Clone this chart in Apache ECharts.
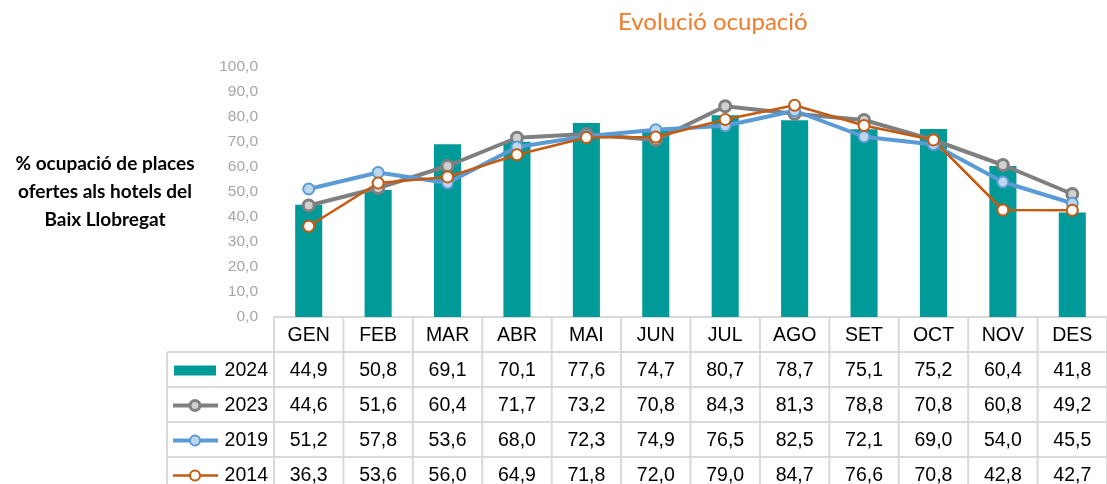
<!DOCTYPE html>
<html>
<head>
<meta charset="utf-8">
<script src="https://cdn.jsdelivr.net/npm/echarts@6/dist/echarts.min.js"></script>
<style>
  html, body { margin: 0; padding: 0; background: #fff; }
  #chart { width: 1107px; height: 484px; }
</style>
</head>
<body>
<div id="chart"></div>
<script>
// mesos i valors (% ocupació)
const months = ["GEN", "FEB", "MAR", "ABR", "MAI", "JUN", "JUL", "AGO", "SET", "OCT", "NOV", "DES"];
const occ2024 = [44.9, 50.8, 69.1, 70.1, 77.6, 74.7, 80.7, 78.7, 75.1, 75.2, 60.4, 41.8];
const occ2023 = [44.6, 51.6, 60.4, 71.7, 73.2, 70.8, 84.3, 81.3, 78.8, 70.8, 60.8, 49.2];
const occ2019 = [51.2, 57.8, 53.6, 68.0, 72.3, 74.9, 76.5, 82.5, 72.1, 69.0, 54.0, 45.5];
const occ2014 = [36.3, 53.6, 56.0, 64.9, 71.8, 72.0, 79.0, 84.7, 76.6, 70.8, 42.8, 42.7];

const fmt = (v) => v.toFixed(1).replace(".", ",");

// colors per year
const sty = {
  "2024": { color: "#009A98" },
  "2023": { line: "#7F7F7F", fill: "#D0D0D0", width: 4, border: 3 },
  "2019": { line: "#5B9BD5", fill: "#BDD7EE", width: 4, border: 2 },
  "2014": { line: "#C55A11", fill: "#FFFFFF", width: 2.5, border: 2 },
};

const chart = echarts.init(document.getElementById("chart"));

const lineSeries = (name, data) => ({
  name,
  type: "line",
  data,
  symbol: "circle",
  symbolSize: 11,
  lineStyle: { color: sty[name].line, width: sty[name].width },
  itemStyle: { color: sty[name].fill, borderColor: sty[name].line, borderWidth: sty[name].border },
  z: 3,
});

const option = {
  animation: false,
  title: {
    text: "Evolució ocupació",
    left: 613,
    top: 5,
    textStyle: { color: "#F07B2B", fontFamily: "Lato", fontWeight: "normal", fontSize: 24 },
  },
  graphic: [
    {
      type: "text",
      x: 105,
      y: 150,
      style: {
        text: "% ocupació de places\nofertes als hotels del\nBaix Llobregat",
        fontFamily: "Lato",
        fontWeight: "bold",
        fontSize: 19,
        lineHeight: 28,
        fill: "#000",
        align: "center",
      },
    },
  ],
  grid: { left: 274, right: 0, top: 67, bottom: 167 },
  xAxis: {
    type: "category",
    data: months,
    axisLine: { lineStyle: { color: "#D9D9D9", width: 2 } },
    axisTick: { show: false },
    axisLabel: { show: false },
  },
  yAxis: {
    type: "value",
    min: 0,
    max: 100,
    interval: 10,
    splitLine: { show: false },
    axisLine: { show: false },
    axisLabel: {
      formatter: fmt,
      color: "#A6A6A6",
      fontFamily: "Liberation Sans",
      fontSize: 15.5,
      margin: 16,
    },
  },
  series: [
    {
      name: "2024",
      type: "bar",
      data: occ2024,
      barWidth: "39%",
      itemStyle: { color: sty["2024"].color },
    },
    lineSeries("2023", occ2023),
    lineSeries("2019", occ2019),
    lineSeries("2014", occ2014),
  ],
};

chart.setOption(option);

// taula de dades sota el gràfic
function buildTable() {
  const rows = [
    { name: "2024", data: occ2024 },
    { name: "2023", data: occ2023 },
    { name: "2019", data: occ2019 },
    { name: "2014", data: occ2014 },
  ];
  const top = chart.convertToPixel({ yAxisIndex: 0 }, 0);
  const rowH = 35;
  const keyLeft = 167;
  const cx = months.map((m) => chart.convertToPixel({ xAxisIndex: 0 }, m));
  const colW = cx[1] - cx[0];
  const x0 = cx[0] - colW / 2;
  const x1 = cx[cx.length - 1] + colW / 2;
  const bottom = top + rowH * (rows.length + 1);
  const border = { stroke: "#D9D9D9", lineWidth: 2 };
  const txt = { fontFamily: "Liberation Sans", fontSize: 19.5, fill: "#000", verticalAlign: "middle" };
  const els = [];

  for (let k = 0; k <= months.length; k++) {
    const x = x0 + k * colW;
    els.push({ type: "line", shape: { x1: x, y1: top, x2: x, y2: bottom }, style: border });
  }
  els.push({ type: "line", shape: { x1: keyLeft, y1: top + rowH, x2: keyLeft, y2: bottom }, style: border });
  for (let r = 1; r <= rows.length; r++) {
    const y = top + r * rowH;
    els.push({ type: "line", shape: { x1: keyLeft, y1: y, x2: x1, y2: y }, style: border });
  }

  months.forEach((m, i) => {
    els.push({ type: "text", x: cx[i], y: top + rowH / 2 + 1, style: { ...txt, text: m, align: "center" } });
  });

  rows.forEach((row, r) => {
    const yc = top + rowH * (r + 1) + rowH / 2 + 1;
    // key
    if (row.name === "2024") {
      els.push({ type: "rect", shape: { x: 174, y: yc - 5, width: 42, height: 10 }, style: { fill: sty["2024"].color } });
    } else {
      const s = sty[row.name];
      els.push({ type: "line", shape: { x1: 173, y1: yc, x2: 218, y2: yc }, style: { stroke: s.line, lineWidth: s.width } });
      els.push({ type: "circle", shape: { cx: 195, cy: yc, r: 5 }, style: { fill: s.fill, stroke: s.line, lineWidth: s.border } });
    }
    els.push({ type: "text", x: 268, y: yc, style: { ...txt, text: row.name, align: "right" } });
    row.data.forEach((v, i) => {
      els.push({ type: "text", x: cx[i], y: yc, style: { ...txt, text: fmt(v), align: "center" } });
    });
  });

  chart.setOption({ graphic: option.graphic.concat(els) });
}

buildTable();
window.addEventListener("resize", () => chart.resize());
</script>
</body>
</html>
